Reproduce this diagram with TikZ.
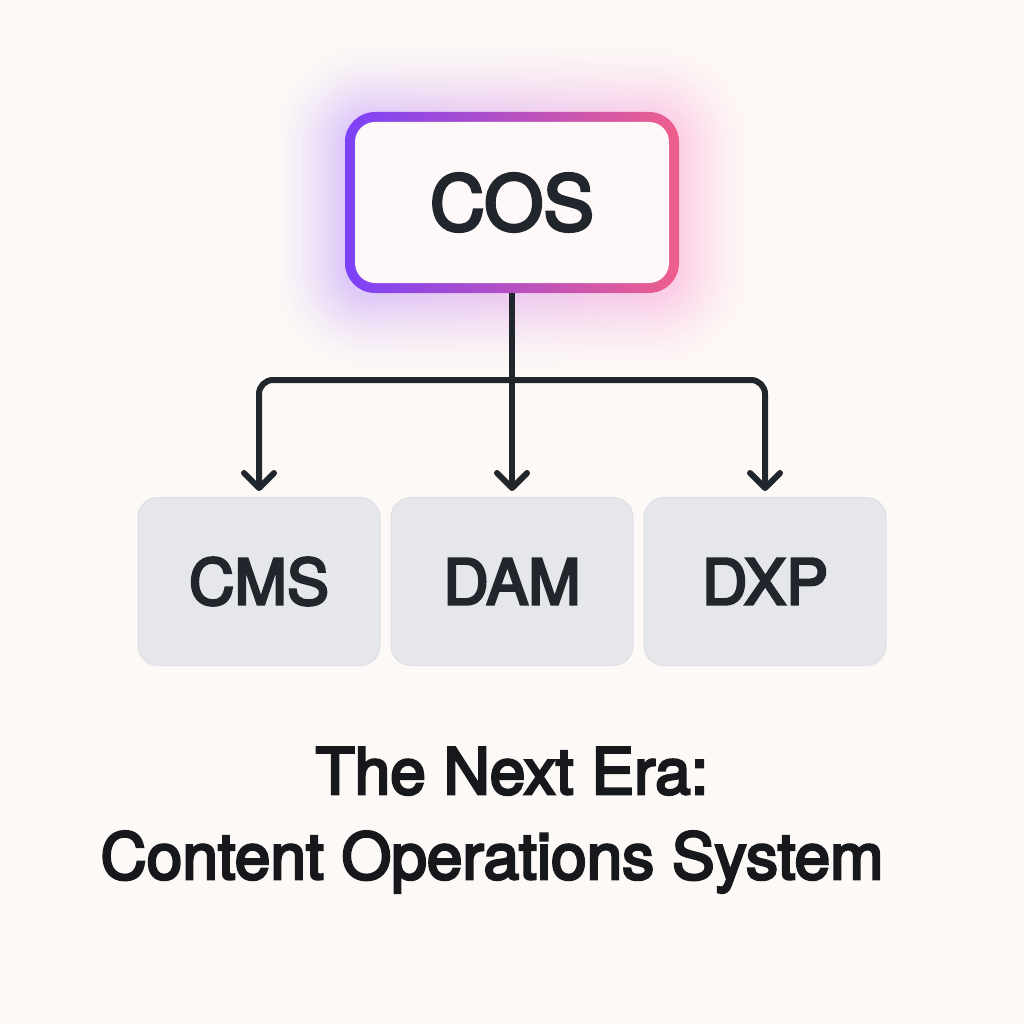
\documentclass[tikz,border=0pt]{standalone}
\usepackage{fontspec}
\setmainfont{TeX Gyre Heros}
\newfontfamily\heavy{TeX Gyre Heros}[FakeBold=4]
\usetikzlibrary{arrows.meta}
\definecolor{bg}{RGB}{253,249,246}
\definecolor{ink}{RGB}{33,38,44}
\definecolor{titleink}{RGB}{22,24,28}
\definecolor{gpurple}{RGB}{124,66,248}
\definecolor{gpink}{RGB}{238,94,140}
\definecolor{glowl}{RGB}{140,80,255}
\definecolor{glowr}{RGB}{250,100,190}
\definecolor{boxgray}{RGB}{229,231,235}
\definecolor{boxline}{RGB}{221,223,229}
\definecolor{cosfill}{RGB}{254,249,248}
\begin{document}
\begin{tikzpicture}[x=1pt,y=-1pt,
  cosbox/.style={shade, left color=gpurple, right color=gpink, rounded corners=30pt,
    minimum width=334pt, minimum height=181pt, inner sep=0pt, text=ink,
    font=\heavy\fontsize{76}{76}\selectfont,
    path picture={\fill[cosfill, rounded corners=20pt]
      ([shift={(10pt,-10pt)}]path picture bounding box.north west) rectangle
      ([shift={(-10pt,10pt)}]path picture bounding box.south east);}},
  sub/.style={draw=boxline, line width=1pt, fill=boxgray, rounded corners=20pt,
    minimum width=242pt, minimum height=168pt, inner sep=0pt, text=ink,
    font=\heavy\fontsize{63}{63}\selectfont},
  conn/.style={draw=ink, line width=6pt, rounded corners=14pt, line join=round,
    -{Straight Barb[length=15pt,width=30pt,line join=round,line cap=round]}, shorten >=6pt},
  titletext/.style={anchor=base, text=titleink, font=\heavy\fontsize{64}{64}\selectfont, inner sep=0pt}
]
\fill[bg] (0,0) rectangle (1024,1024);
\useasboundingbox (0,0) rectangle (1024,1024);

% glow: opaque layers from outside in, colours pre-mixed with the background
\foreach \n [evaluate=\n as \t using {30*(1-\n/24)^1.6},
             evaluate=\n as \r using {30+3*\n}] in {24,23,...,1} {
  \shade[left color=glowl!\t!bg, right color=glowr!\t!bg, rounded corners=\r pt]
    (345-3.3*\n,116-3.3*\n) rectangle (679+3.3*\n,297+3.3*\n);
}

\node[cosbox] (cos) at (512,202.5) {COS};

\node[sub] (cms) at (259,581.5) {CMS};
\node[sub] (dam) at (512,581.5) {DAM};
\node[sub] (dxp) at (765,581.5) {DXP};

\coordinate (j) at (512,380);
\draw[conn] (cos.south) -- (dam.north);
\draw[conn] (j) -| (cms.north);
\draw[conn] (j) -| (dxp.north);

\node[titletext] (title1) at (512,794) {The Next Era:};
\node[titletext] (title2) at (492,879) {Content Operations System};
\end{tikzpicture}
\end{document}
